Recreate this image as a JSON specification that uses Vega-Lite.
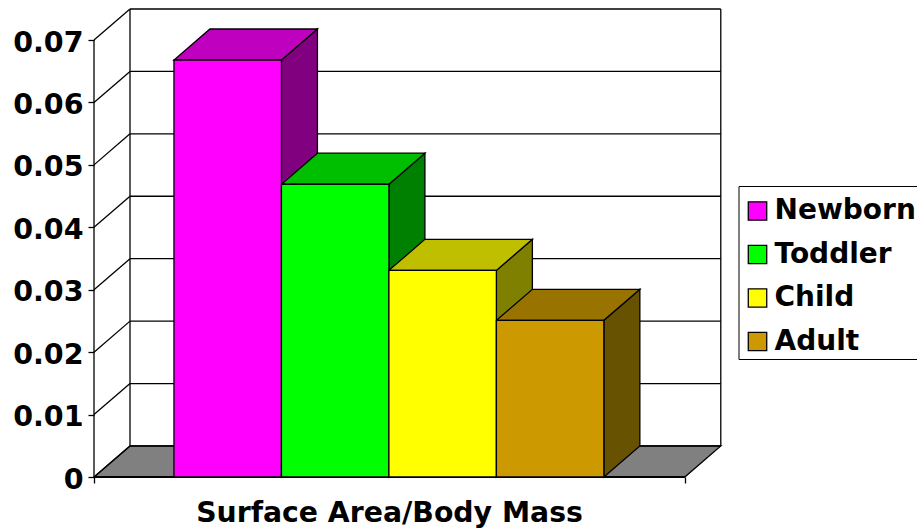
{
"$schema":"https://vega.github.io/schema/vega-lite/v6.json",
"width":627,"height":468,
"autosize":"none",
"padding":{"left":94,"top":9,"right":196,"bottom":52},
"background":"white",
"config":{"view":{"stroke":null},"font":"DejaVu Sans"},
"datasets":{
"bars":[
{"series":"Newborn","order":0,"value":0.0668},
{"series":"Toddler","order":1,"value":0.0469},
{"series":"Child","order":2,"value":0.0331},
{"series":"Adult","order":3,"value":0.0251}],
"levels":[{"level":0},{"level":0.01},{"level":0.02},{"level":0.03},{"level":0.04},{"level":0.05},{"level":0.06},{"level":0.07}]
},
"layer":[
{"data":{"values":[{"k":0},{"k":1},{"k":2},{"k":3}]},
 "transform":[
  {"calculate":"[-0.744,-0.409,4.753,5.088][datum.k]","as":"px"},
  {"calculate":"[0,0,0,0.00497][datum.k]","as":"lo"},
  {"calculate":"[0,0.00497,0.00497,0.00497][datum.k]","as":"hi"}],
 "mark":{"type":"area","orient":"vertical","fill":"#808080","stroke":"black","strokeWidth":1.3},
 "encoding":{
  "x":{"field":"px","type":"quantitative","scale":{"domain":[-0.744,5.09],"nice":false,"zero":false},
   "axis":{"values":[-0.744,4.753],"labels":false,"domain":false,"grid":false,"ticks":true,"tickSize":6,"tickColor":"black","tickWidth":1.3,
    "title":"Surface Area/Body Mass","titleFont":"DejaVu Sans","titleFontSize":28.3,"titleFontWeight":"bold","titleColor":"black","titleX":295,"titleY":44,"titleAlign":"center","titleBaseline":"alphabetic"}},
  "y":{"field":"lo","type":"quantitative","stack":null,"scale":{"domain":[0,0.07497],"nice":false,"zero":false},
   "axis":{"values":[0,0.01,0.02,0.03,0.04,0.05,0.06,0.07],"format":".2~f","domain":false,"grid":false,"tickSize":6,"tickColor":"black","tickWidth":1.3,"labelPadding":5,"labelOffset":2,
    "labelFont":"DejaVu Sans","labelFontSize":28.5,"labelFontWeight":"bold","labelColor":"black","title":null}},
  "y2":{"field":"hi"}}},
{"data":{"name":"levels"},
 "transform":[{"calculate":"datum.level+0.00497","as":"back"}],
 "mark":{"type":"rule","stroke":"black","strokeWidth":1.3},
 "encoding":{
  "x":{"datum":-0.409,"type":"quantitative"},
  "x2":{"datum":5.088},
  "y":{"field":"back","type":"quantitative"},
  "y2":{"field":"back"}}},
{"data":{"name":"levels"},
 "transform":[{"calculate":"datum.level+0.00497","as":"back"}],
 "mark":{"type":"rule","stroke":"black","strokeWidth":1.3},
 "encoding":{
  "x":{"datum":-0.744,"type":"quantitative"},
  "x2":{"datum":-0.409},
  "y":{"field":"level","type":"quantitative"},
  "y2":{"field":"back"}}},
{"data":{"values":[{"wall":-0.409},{"wall":5.088}]},
 "mark":{"type":"rule","stroke":"black","strokeWidth":1.3},
 "encoding":{
  "x":{"field":"wall","type":"quantitative"},
  "y":{"datum":0.00497,"type":"quantitative"},
  "y2":{"datum":0.07497}}},
{"data":{"values":[{"wall":-0.744}]},
 "mark":{"type":"rule","stroke":"black","strokeWidth":1.3},
 "encoding":{
  "x":{"field":"wall","type":"quantitative"},
  "y":{"datum":0,"type":"quantitative"},
  "y2":{"datum":0.07}}},
{"data":{"values":[{"base":0}]},
 "mark":{"type":"rule","stroke":"black","strokeWidth":2},
 "encoding":{
  "x":{"datum":-0.744,"type":"quantitative"},
  "x2":{"datum":4.753},
  "y":{"field":"base","type":"quantitative"}}},
{"data":{"name":"bars"},
 "transform":[
  {"calculate":"[0,1]","as":"k"},{"flatten":["k"]},
  {"calculate":"datum.order+1+datum.k*0.335","as":"px"},
  {"calculate":"datum.k*0.00497","as":"lo"},
  {"calculate":"datum.value+datum.k*0.00497","as":"hi"}],
 "mark":{"type":"area","orient":"vertical","stroke":"black","strokeWidth":1.3},
 "encoding":{
  "x":{"field":"px","type":"quantitative"},
  "y":{"field":"lo","type":"quantitative","stack":null},
  "y2":{"field":"hi"},
  "color":{"field":"series","type":"nominal","legend":null,
   "scale":{"domain":["Newborn","Toddler","Child","Adult"],"range":["#800080","#008000","#808000","#665200"]}}}},
{"data":{"name":"bars"},
 "transform":[
  {"calculate":"[0,1,2,3]","as":"k"},{"flatten":["k"]},
  {"calculate":"[datum.order,datum.order+0.335,datum.order+1,datum.order+1.335][datum.k]","as":"px"},
  {"calculate":"datum.value+[0,0,0,0.00497][datum.k]","as":"lo"},
  {"calculate":"datum.value+[0,0.00497,0.00497,0.00497][datum.k]","as":"hi"}],
 "mark":{"type":"area","orient":"vertical","stroke":"black","strokeWidth":1.3},
 "encoding":{
  "x":{"field":"px","type":"quantitative"},
  "y":{"field":"lo","type":"quantitative","stack":null},
  "y2":{"field":"hi"},
  "color":{"field":"series","type":"nominal","legend":null,
   "scale":{"domain":["Newborn","Toddler","Child","Adult"],"range":["#BF00BF","#00BF00","#BFBF00","#997300"]}}}},
{"data":{"name":"bars"},
 "transform":[{"calculate":"datum.order+1","as":"next"}],
 "mark":{"type":"rect","stroke":"black","strokeWidth":1.3},
 "encoding":{
  "x":{"field":"order","type":"quantitative"},
  "x2":{"field":"next"},
  "y":{"field":"value","type":"quantitative","stack":null},
  "y2":{"datum":0},
  "fill":{"field":"series","type":"nominal",
   "scale":{"domain":["Newborn","Toddler","Child","Adult"],"range":["#FF00FF","#00FF00","#FFFF00","#CC9900"]},
   "legend":{"title":" ","titleFontSize":1,"titlePadding":7,"orient":"none","legendX":644.5,"legendY":177,"padding":3,"fillColor":"white","strokeColor":"black",
    "symbolType":"square","symbolSize":340,"symbolOffset":2,"symbolStrokeColor":"black","symbolStrokeWidth":1.3,"symbolOpacity":1,
    "labelFont":"DejaVu Sans","labelFontSize":28,"labelFontWeight":"bold","labelColor":"black","labelLimit":400,"labelOffset":3,"rowPadding":15.5,"columnPadding":10}}}}
],
"resolve":{"scale":{"color":"independent"},"legend":{"color":"independent"}}
}
